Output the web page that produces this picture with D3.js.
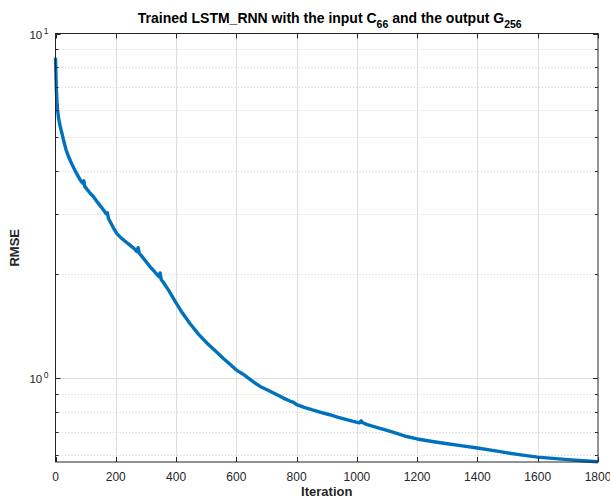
<!DOCTYPE html>
<html>
<head>
<meta charset="utf-8">
<script src="https://cdn.jsdelivr.net/npm/d3@7"></script>
<style>
  html, body { margin: 0; padding: 0; background: #fff; }
  svg { display: block; font-family: "Liberation Sans", Arial, Helvetica, sans-serif; }
</style>
</head>
<body>
<svg id="chart"></svg>
<script>
// values
const iterations = [0, 1, 2, 3, 5, 7, 10, 15, 21, 28, 35, 42, 49, 57, 65, 74, 82, 90, 94, 97, 100, 108, 115, 126, 138, 150, 160, 168, 172, 176, 182, 192, 203, 216, 230, 245, 260, 270, 274, 278, 284, 300, 315, 330, 343, 347, 351, 357, 375, 397, 420, 446, 475, 502, 530, 557, 580, 600, 620, 640, 660, 679, 700, 720, 740, 760, 778, 790, 800, 825, 850, 880, 910, 935, 960, 985, 1008, 1014, 1020, 1032, 1065, 1100, 1135, 1165, 1200, 1250, 1300, 1350, 1400, 1450, 1500, 1550, 1600, 1650, 1700, 1750, 1800];
const rmse = [8.5, 7.9, 7.3, 6.8, 6.3, 6.0, 5.7, 5.4, 5.15, 4.85, 4.6, 4.42, 4.28, 4.13, 4.0, 3.87, 3.76, 3.68, 3.74, 3.6, 3.57, 3.5, 3.44, 3.36, 3.25, 3.15, 3.07, 3.0, 3.02, 2.9, 2.84, 2.73, 2.63, 2.56, 2.5, 2.44, 2.38, 2.33, 2.39, 2.3, 2.27, 2.18, 2.1, 2.03, 1.97, 2.02, 1.93, 1.9, 1.8, 1.67, 1.55, 1.44, 1.34, 1.265, 1.2, 1.14, 1.095, 1.055, 1.03, 1.0, 0.97, 0.946, 0.927, 0.908, 0.89, 0.872, 0.858, 0.85, 0.838, 0.823, 0.81, 0.796, 0.783, 0.771, 0.76, 0.75, 0.742, 0.752, 0.742, 0.734, 0.72, 0.705, 0.69, 0.677, 0.666, 0.655, 0.645, 0.636, 0.627, 0.617, 0.607, 0.598, 0.59, 0.585, 0.58, 0.576, 0.572];

const xTicks = [0, 200, 400, 600, 800, 1000, 1200, 1400, 1600, 1800];
const yMajor = [1, 10];
const yMinor = [0.6, 0.7, 0.8, 0.9, 2, 3, 4, 5, 6, 7, 8, 9];
const xDomain = [0, 1800];
const yDomain = [0.571, 10];

const width = 610;
const height = 500;
const margin = { top: 33.5, right: 12, bottom: 38, left: 55.5 };
const axisColor = "#262626";

const svg = d3.select("#chart").attr("width", width).attr("height", height);

const x = d3.scaleLinear().domain(xDomain).range([margin.left, width - margin.right]);
const y = d3.scaleLog().domain(yDomain).range([height - margin.bottom, margin.top]);

const x0 = x.range()[0], x1 = x.range()[1];
const yb = y.range()[0], yt = y.range()[1];

// grid
const grid = svg.append("g");
grid.selectAll("line.vg")
  .data(xTicks.slice(1, -1))
  .join("line")
  .attr("x1", (d) => Math.round(x(d)) + 0.5)
  .attr("x2", (d) => Math.round(x(d)) + 0.5)
  .attr("y1", yt).attr("y2", yb)
  .attr("stroke", "#dedede").attr("stroke-width", 1);
grid.selectAll("line.hmin")
  .data(yMinor)
  .join("line")
  .attr("x1", x0).attr("x2", x1)
  .attr("y1", (d) => Math.round(y(d)) + 0.5)
  .attr("y2", (d) => Math.round(y(d)) + 0.5)
  .attr("stroke", "#d2d2d2").attr("stroke-width", 1).attr("stroke-dasharray", "1,2.2");
grid.selectAll("line.hmaj")
  .data(yMajor.filter((d) => d < 10))
  .join("line")
  .attr("x1", x0).attr("x2", x1)
  .attr("y1", (d) => Math.round(y(d)) + 0.5)
  .attr("y2", (d) => Math.round(y(d)) + 0.5)
  .attr("stroke", "#dedede").attr("stroke-width", 1);

// data line
const pts = iterations.map((t, i) => [t, rmse[i]]);
svg.append("path")
  .datum(pts)
  .attr("fill", "none")
  .attr("stroke", "#0072BD")
  .attr("stroke-width", 3.4)
  .attr("stroke-linejoin", "round")
  .attr("d", d3.line().x((d) => x(d[0])).y((d) => y(d[1])));

// box and ticks
const axes = svg.append("g").attr("stroke", axisColor).attr("fill", "none");
axes.append("rect")
  .attr("x", x0).attr("y", yt)
  .attr("width", x1 - x0).attr("height", yb - yt)
  .attr("stroke-width", 1);

const tl = 5;
xTicks.forEach((t) => {
  const px = Math.round(x(t)) + 0.5;
  axes.append("line").attr("x1", px).attr("x2", px).attr("y1", yb).attr("y2", yb - tl);
  axes.append("line").attr("x1", px).attr("x2", px).attr("y1", yt).attr("y2", yt + tl);
});
yMajor.concat(yMinor).forEach((v) => {
  const py = Math.round(y(v)) + 0.5;
  const len = yMajor.includes(v) ? tl : 3;
  axes.append("line").attr("x1", x0).attr("x2", x0 + len).attr("y1", py).attr("y2", py);
  axes.append("line").attr("x1", x1).attr("x2", x1 - len).attr("y1", py).attr("y2", py);
});

// tick labels
svg.append("g")
  .selectAll("text")
  .data(xTicks)
  .join("text")
  .attr("x", (d) => x(d))
  .attr("y", yb + 19)
  .attr("text-anchor", "middle")
  .attr("font-size", 12)
  .attr("fill", axisColor)
  .text((d) => d);

const yLab = svg.append("g")
  .selectAll("text")
  .data(yMajor)
  .join("text")
  .attr("x", x0 - 7)
  .attr("y", (d) => y(d) + 5)
  .attr("text-anchor", "end")
  .attr("font-size", 11.5)
  .attr("fill", axisColor);
yLab.append("tspan").text("10");
yLab.append("tspan")
  .attr("dy", -5)
  .attr("dx", 1.5)
  .attr("font-size", 8.5)
  .text((d) => Math.round(Math.log10(d)));

// axis titles
svg.append("text")
  .attr("x", (x0 + x1) / 2)
  .attr("y", height - 4)
  .attr("text-anchor", "middle")
  .attr("font-size", 13)
  .attr("font-weight", "bold")
  .attr("fill", axisColor)
  .text("Iteration");

svg.append("text")
  .attr("transform", `translate(19,${(yt + yb) / 2}) rotate(-90)`)
  .attr("text-anchor", "middle")
  .attr("font-size", 13)
  .attr("font-weight", "bold")
  .attr("fill", axisColor)
  .text("RMSE");

// title with subscripts
const title = svg.append("text")
  .attr("x", (x0 + x1) / 2 + 3)
  .attr("y", 23)
  .attr("text-anchor", "middle")
  .attr("font-size", 14)
  .attr("font-weight", "bold")
  .attr("fill", "#000");
title.append("tspan").text("Trained LSTM_RNN with the input C");
title.append("tspan").attr("dy", 5).attr("font-size", 10.5).text("66");
title.append("tspan").attr("dy", -5).text(" and the output G");
title.append("tspan").attr("dy", 5).attr("font-size", 10.5).text("256");
</script>
</body>
</html>
